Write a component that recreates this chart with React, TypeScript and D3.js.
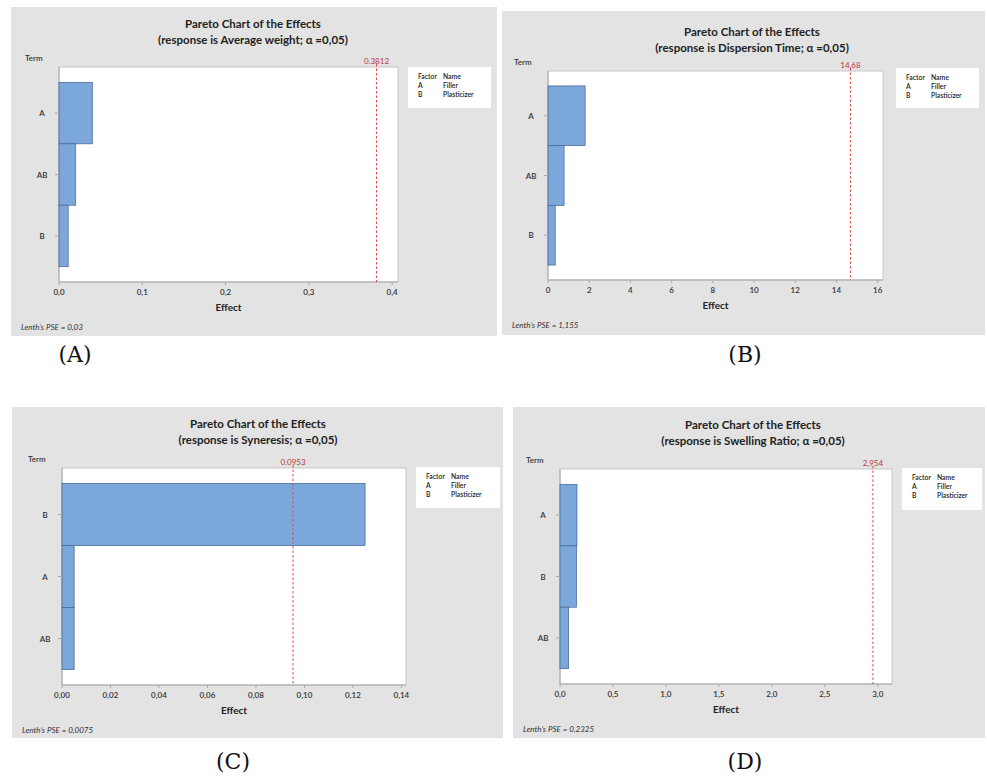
import React from "react";
import * as d3 from "d3";

// chart values
const panelLabels = ["(A)", "(B)", "(C)", "(D)"];
const responses = ["Average weight", "Dispersion Time", "Syneresis", "Swelling Ratio"];

const termsA = ["A", "AB", "B"];
const effectsA = [0.04, 0.02, 0.011];
const termsB = ["A", "AB", "B"];
const effectsB = [1.8, 0.78, 0.35];
const termsC = ["B", "A", "AB"];
const effectsC = [0.125, 0.005, 0.005];
const termsD = ["A", "B", "AB"];
const effectsD = [0.16, 0.155, 0.08];

const thresholds = [0.3812, 14.68, 0.0953, 2.954];
const thresholdLabels = ["0.3812", "14,68", "0.0953", "2,954"];
const xMaxes = [0.407, 16.26, 0.1419, 3.134];
const pseValues = ["0,03", "1,155", "0,0075", "0,2325"];

const tickValuesA = [0, 0.1, 0.2, 0.3, 0.4];
const tickLabelsA = ["0,0", "0,1", "0,2", "0,3", "0,4"];
const tickValuesB = [0, 2, 4, 6, 8, 10, 12, 14, 16];
const tickLabelsB = ["0", "2", "4", "6", "8", "10", "12", "14", "16"];
const tickValuesC = [0, 0.02, 0.04, 0.06, 0.08, 0.1, 0.12, 0.14];
const tickLabelsC = ["0,00", "0,02", "0,04", "0,06", "0,08", "0,10", "0,12", "0,14"];
const tickValuesD = [0, 0.5, 1, 1.5, 2, 2.5, 3];
const tickLabelsD = ["0,0", "0,5", "1,0", "1,5", "2,0", "2,5", "3,0"];

const factorCodes = ["A", "B"];
const factorNames = ["Filler", "Plasticizer"];

// panel geometry
const layouts = [
  { bg: [11, 7, 497, 336], plot: [59, 67, 398, 282], legend: [408, 67, 491, 108], titleX: 253, titleY: 28, label: [75, 362] },
  { bg: [502, 11, 985, 335], plot: [548, 71, 883, 280], legend: [896, 68, 979, 108], titleX: 752, titleY: 36, label: [745, 362] },
  { bg: [12, 407, 503, 738], plot: [62, 468, 406, 685], legend: [416, 467, 500, 508], titleX: 258, titleY: 428, label: [233, 769] },
  { bg: [513, 407, 985, 738], plot: [560, 469, 892, 684], legend: [902, 468, 982, 510], titleX: 753, titleY: 429, label: [745, 769] },
];

const FONT = "Lato, 'Open Sans', sans-serif";

function Panel({ i, terms, effects, tickValues, tickLabels }) {
  const L = layouts[i];
  const [bx0, by0, bx1, by1] = L.bg;
  const [px0, py0, px1, py1] = L.plot;
  const [lx0, ly0, lx1, ly1] = L.legend;

  const x = d3.scaleLinear().domain([0, xMaxes[i]]).range([px0, px1]);
  const y = d3.scaleBand().domain(terms).range([py0, py1]).paddingInner(0).paddingOuter(0.25);
  const tx = x(thresholds[i]);

  return (
    <g fontFamily={FONT}>
      <rect x={bx0} y={by0} width={bx1 - bx0} height={by1 - by0} fill="#e3e3e3" />
      <text x={L.titleX} y={L.titleY} textAnchor="middle" fontSize={11.5} fontWeight="bold" fill="#222">
        Pareto Chart of the Effects
      </text>
      <text x={L.titleX} y={L.titleY + 16} textAnchor="middle" fontSize={11.5} fontWeight="bold" fill="#222">
        {`(response is ${responses[i]}; α =0,05)`}
      </text>
      <text x={px0 - 34} y={py0 - 6} fontSize={8} fontWeight={600} fill="#333">Term</text>

      <rect x={px0} y={py0} width={px1 - px0} height={py1 - py0} fill="#fff" stroke="#c8c8c8" strokeWidth={1} />
      <line x1={px0} x2={px0} y1={py0} y2={py1} stroke="#a8a8a8" />
      <line x1={px0} x2={px1} y1={py1} y2={py1} stroke="#a8a8a8" />

      {terms.map((t, k) => (
        <rect key={t} x={px0} y={y(t)} width={x(effects[k]) - px0} height={y.bandwidth()}
          fill="#7ba7da" stroke="#4d6c99" strokeWidth={0.8} />
      ))}

      <line x1={tx} x2={tx} y1={py0 - 3} y2={py1} stroke="#e0474c" strokeWidth={1} strokeDasharray="2.5,2" />
      <text x={tx} y={py0 - 3} textAnchor="middle" fontSize={8} fill="#b8383c">{thresholdLabels[i]}</text>

      {terms.map((t) => (
        <g key={t}>
          <line x1={px0 - 4} x2={px0} y1={y(t) + y.bandwidth() / 2} y2={y(t) + y.bandwidth() / 2} stroke="#aaa" />
          <text x={px0 - 17} y={y(t) + y.bandwidth() / 2 + 3} textAnchor="middle" fontSize={8} fontWeight={600} fill="#333">{t}</text>
        </g>
      ))}

      {tickValues.map((v, k) => (
        <g key={v}>
          <line x1={x(v)} x2={x(v)} y1={py1} y2={py1 + 3} stroke="#aaa" />
          <text x={x(v)} y={py1 + 13} textAnchor="middle" fontSize={8} fontWeight={600} fill="#333">{tickLabels[k]}</text>
        </g>
      ))}
      <text x={(px0 + px1) / 2} y={py1 + 29} textAnchor="middle" fontSize={10} fontWeight="bold" fill="#222">Effect</text>
      <text x={bx0 + 10} y={py1 + 48} fontSize={8} fontStyle="italic" fill="#333">{`Lenth’s PSE = ${pseValues[i]}`}</text>

      <rect x={lx0} y={ly0} width={lx1 - lx0} height={ly1 - ly0} fill="#fff" />
      <text x={lx0 + 10} y={ly0 + 12} fontSize={6.8} fontWeight={600} fill="#222">Factor</text>
      <text x={lx0 + 35} y={ly0 + 12} fontSize={6.8} fontWeight={600} fill="#222">Name</text>
      {factorCodes.map((c, k) => (
        <g key={c}>
          <text x={lx0 + 10} y={ly0 + 21 + k * 9} fontSize={6.8} fontWeight={600} fill="#222">{c}</text>
          <text x={lx0 + 35} y={ly0 + 21 + k * 9} fontSize={6.8} fontWeight={600} fill="#222">{factorNames[k]}</text>
        </g>
      ))}

      <text x={L.label[0]} y={L.label[1]} textAnchor="middle" fontSize={22}
        fontFamily="'DejaVu Serif', 'Liberation Serif', serif" fill="#111">{panelLabels[i]}</text>
    </g>
  );
}

export default function App() {
  return (
    <svg width={987} height={778} style={{ position: "absolute", left: 0, top: 0, background: "#fff" }}>
      <Panel i={0} terms={termsA} effects={effectsA} tickValues={tickValuesA} tickLabels={tickLabelsA} />
      <Panel i={1} terms={termsB} effects={effectsB} tickValues={tickValuesB} tickLabels={tickLabelsB} />
      <Panel i={2} terms={termsC} effects={effectsC} tickValues={tickValuesC} tickLabels={tickLabelsC} />
      <Panel i={3} terms={termsD} effects={effectsD} tickValues={tickValuesD} tickLabels={tickLabelsD} />
    </svg>
  );
}
